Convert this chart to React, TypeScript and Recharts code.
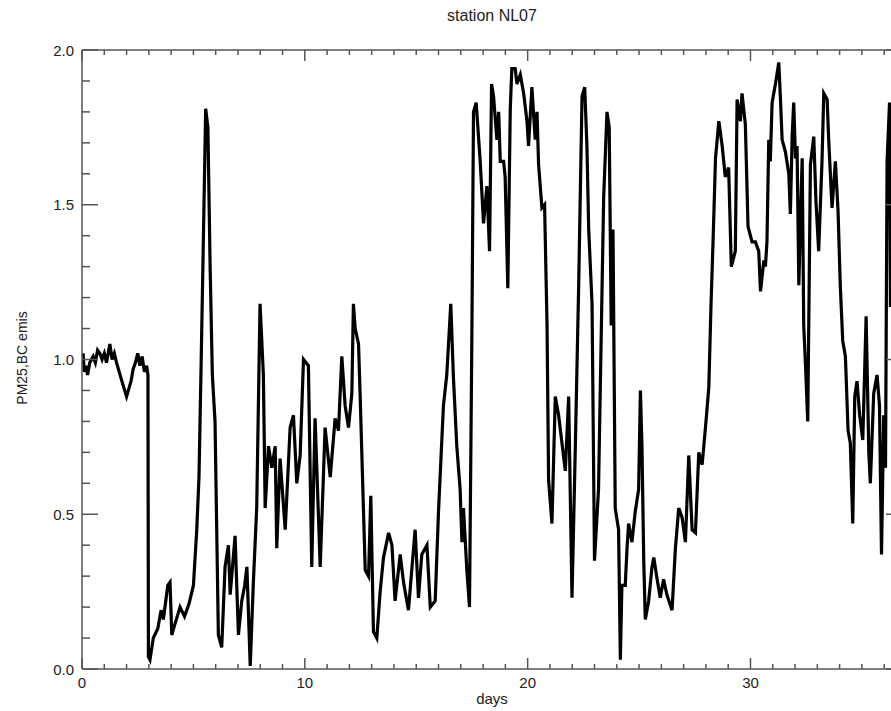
import { LineChart, Line, XAxis, YAxis } from "recharts";

// station NL07, PM25 BC emission factor
const days = [
  0.0, 0.05, 0.1, 0.18, 0.25, 0.35, 0.5, 0.6, 0.7, 0.8, 0.9, 1.0, 1.1, 1.25, 1.35, 1.45, 1.55,
  1.75, 2.0, 2.2, 2.3, 2.4, 2.5, 2.6, 2.7, 2.8, 2.9, 2.96,
  2.98, 3.05, 3.2, 3.4, 3.55, 3.65, 3.85, 3.95, 4.03, 4.15, 4.4, 4.6, 4.8, 5.0, 5.15, 5.25,
  5.35, 5.45, 5.55, 5.65, 5.75, 5.85, 5.97, 6.12, 6.27, 6.42, 6.57, 6.65, 6.87, 7.02, 7.17,
  7.3, 7.4, 7.55, 7.69, 7.84, 7.99, 8.14, 8.22, 8.37, 8.52, 8.67, 8.74, 8.89, 9.12, 9.34,
  9.49, 9.64, 9.79, 9.94, 10.16, 10.31, 10.46, 10.69, 10.91, 11.14, 11.36, 11.51, 11.66,
  11.81, 11.96, 12.11, 12.18, 12.26, 12.41, 12.48, 12.71, 12.86, 12.96, 13.08, 13.23, 13.38,
  13.53, 13.76, 13.91, 14.05, 14.28, 14.43, 14.65, 14.95, 15.1, 15.25, 15.48, 15.63, 15.85,
  16.0, 16.22, 16.37, 16.55, 16.67, 16.82, 16.97, 17.05, 17.12, 17.27, 17.39, 17.5, 17.57,
  17.69, 17.87, 18.02, 18.17, 18.29, 18.38, 18.47, 18.62, 18.7, 18.77, 18.92, 18.99, 19.11,
  19.22, 19.29, 19.44, 19.52, 19.67, 19.82, 19.97, 20.04, 20.19, 20.34, 20.42, 20.49, 20.64,
  20.76, 20.87, 20.94, 21.09, 21.24, 21.39, 21.69, 21.84, 21.99, 22.14, 22.29, 22.44, 22.56,
  22.66, 22.74, 22.89, 23.0, 23.18, 23.41, 23.56, 23.66, 23.75, 23.83, 23.93, 24.08, 24.16,
  24.23, 24.38, 24.46, 24.53, 24.68, 24.83, 24.98, 25.06, 25.13, 25.21, 25.28, 25.43, 25.58,
  25.66, 25.81, 25.95, 26.1, 26.25, 26.48, 26.63, 26.78, 26.93, 27.08, 27.23, 27.38, 27.53,
  27.68, 27.83, 27.98, 28.13, 28.23, 28.32, 28.43, 28.58, 28.73, 28.87, 29.02, 29.14, 29.32,
  29.4, 29.55, 29.62, 29.77, 29.89, 30.07, 30.22, 30.37, 30.45, 30.6, 30.67, 30.74, 30.82,
  30.89, 30.97, 31.12, 31.27, 31.34, 31.42, 31.57, 31.72, 31.79, 31.87, 31.94, 32.02, 32.09,
  32.17, 32.24, 32.32, 32.39, 32.47, 32.57, 32.69, 32.84, 32.94, 33.06, 33.21, 33.29, 33.44,
  33.51, 33.66, 33.81, 33.93, 34.03, 34.14, 34.26, 34.38, 34.48, 34.59, 34.68, 34.78, 34.9,
  35.04, 35.19, 35.31, 35.38, 35.53, 35.68, 35.79, 35.88, 35.98, 36.06, 36.13, 36.24, 36.28,
];

const bcEmis = [
  0.99, 1.02, 0.96, 0.98, 0.95, 0.99, 1.01, 0.99, 1.03, 1.02, 1.0, 1.02, 0.99, 1.05, 1.0, 1.02, 0.99,
  0.94, 0.88, 0.93, 0.97, 0.99, 1.02, 0.98, 1.01, 0.96, 0.98, 0.95,
  0.04, 0.03, 0.1, 0.13, 0.19, 0.16, 0.27, 0.28, 0.11, 0.14, 0.2, 0.17, 0.21, 0.27, 0.45, 0.62,
  1.0, 1.4, 1.81, 1.75, 1.3, 0.95, 0.8, 0.11, 0.07, 0.33, 0.4, 0.24, 0.43, 0.11, 0.22,
  0.27, 0.33, 0.01, 0.28, 0.52, 1.18, 0.95, 0.52, 0.72, 0.65, 0.72, 0.39, 0.68, 0.45, 0.78,
  0.82, 0.6, 0.69, 1.0, 0.98, 0.33, 0.81, 0.33, 0.78, 0.62, 0.81, 0.77, 1.01,
  0.85, 0.78, 0.89, 1.18, 1.1, 1.05, 0.89, 0.32, 0.3, 0.56, 0.12, 0.1, 0.25,
  0.36, 0.44, 0.4, 0.22, 0.37, 0.28, 0.19, 0.45, 0.23, 0.37, 0.4, 0.2, 0.22,
  0.51, 0.85, 0.95, 1.18, 0.94, 0.72, 0.58, 0.41, 0.52, 0.32, 0.2, 1.11, 1.8,
  1.83, 1.64, 1.44, 1.56, 1.35, 1.89, 1.85, 1.71, 1.8, 1.64, 1.64, 1.59, 1.23,
  1.81, 1.94, 1.94, 1.89, 1.92, 1.86, 1.77, 1.69, 1.88, 1.71, 1.8, 1.63, 1.49,
  1.5, 1.11, 0.61, 0.47, 0.88, 0.82, 0.64, 0.88, 0.23, 0.72, 1.24, 1.85, 1.88,
  1.69, 1.42, 1.18, 0.35, 0.58, 1.52, 1.8, 1.75, 1.11, 1.42, 0.52, 0.45, 0.03,
  0.27, 0.27, 0.39, 0.47, 0.41, 0.51, 0.58, 0.9, 0.72, 0.35, 0.16, 0.22, 0.33,
  0.36, 0.29, 0.23, 0.29, 0.24, 0.19, 0.39, 0.52, 0.49, 0.41, 0.69, 0.45, 0.44,
  0.7, 0.66, 0.78, 0.91, 1.18, 1.38, 1.65, 1.77, 1.69, 1.59, 1.62, 1.3, 1.35,
  1.84, 1.77, 1.86, 1.76, 1.43, 1.38, 1.38, 1.35, 1.22, 1.32, 1.3, 1.38, 1.71,
  1.64, 1.83, 1.89, 1.96, 1.85, 1.71, 1.67, 1.6, 1.47, 1.72, 1.83, 1.65, 1.69,
  1.24, 1.44, 1.65, 1.11, 0.98, 0.8, 1.63, 1.72, 1.51, 1.35, 1.64, 1.86, 1.84,
  1.71, 1.49, 1.64, 1.48, 1.24, 1.06, 1.01, 0.77, 0.73, 0.47, 0.88, 0.93, 0.82,
  0.74, 1.14, 0.7, 0.6, 0.89, 0.95, 0.85, 0.37, 0.82, 0.65, 1.64, 1.83, 1.17,
];

const xMajor = [0, 10, 20, 30];
const yMajor = [0, 0.5, 1, 1.5, 2];
const yLabels = ["0.0", "0.5", "1.0", "1.5", "2.0"];

// minor ticks: one per day, one per 0.1
const xTicks: number[] = [];
for (let i = 0; i <= 36; i++) xTicks.push(i);
const yTicks: number[] = [];
for (let i = 0; i <= 20; i++) yTicks.push(i / 10);

const data = days.map((d, i) => ({ day: d, v: bcEmis[i] }));

const AXIS = "#555";
const FONT = "'Liberation Sans', Arial, Helvetica, sans-serif";

const isMajorX = (v: number) => xMajor.includes(v);
const isMajorY = (v: number) => yMajor.some((m) => Math.abs(m - v) < 1e-6);

const BottomTick = (props: any) => {
  const { x, y, payload } = props;
  const major = isMajorX(payload.value);
  return (
    <g>
      <line x1={x} y1={y} x2={x} y2={y - (major ? 11 : 5)} stroke={AXIS} strokeWidth={1.5} />
      {major && (
        <text x={x} y={y + 19} textAnchor="middle" fontSize={15} fill="#222" fontFamily={FONT}>
          {payload.value}
        </text>
      )}
    </g>
  );
};

const TopTick = (props: any) => {
  const { x, y, payload } = props;
  const major = isMajorX(payload.value);
  return <line x1={x} y1={y} x2={x} y2={y + (major ? 11 : 5)} stroke={AXIS} strokeWidth={1.5} />;
};

const LeftTick = (props: any) => {
  const { x, y, payload } = props;
  const major = isMajorY(payload.value);
  const idx = yMajor.findIndex((m) => Math.abs(m - payload.value) < 1e-6);
  return (
    <g>
      <line x1={x} y1={y} x2={x + (major ? 16 : 8)} y2={y} stroke={AXIS} strokeWidth={1.5} />
      {major && (
        <text x={x - 8} y={y + 5.5} textAnchor="end" fontSize={15} fill="#222" fontFamily={FONT}>
          {yLabels[idx]}
        </text>
      )}
    </g>
  );
};

const RightTick = (props: any) => {
  const { x, y, payload } = props;
  const major = isMajorY(payload.value);
  return <line x1={x} y1={y} x2={x - (major ? 16 : 8)} y2={y} stroke={AXIS} strokeWidth={1.5} />;
};

export default function App() {
  return (
    <div
      style={{
        position: "fixed",
        left: 0,
        top: 0,
        width: 891,
        height: 711,
        overflow: "hidden",
        background: "#fff",
        fontFamily: FONT,
      }}
    >
      <div
        style={{
          position: "absolute",
          left: 392,
          width: 200,
          top: 7,
          textAlign: "center",
          fontSize: 16,
          color: "#222",
        }}
      >
        station NL07
      </div>
      <div
        style={{
          position: "absolute",
          left: 442,
          width: 100,
          top: 690,
          textAlign: "center",
          fontSize: 15,
          color: "#222",
        }}
      >
        days
      </div>
      <div
        style={{
          position: "absolute",
          left: 22 - 100,
          top: 358 - 10,
          width: 200,
          height: 20,
          lineHeight: "20px",
          textAlign: "center",
          fontSize: 14,
          color: "#222",
          transform: "rotate(-90deg)",
        }}
      >
        PM25,BC emis
      </div>
      <div style={{ position: "absolute", left: 0, top: 0 }}>
        <LineChart width={910} height={711} data={data} margin={{ top: 49, right: 7, bottom: 12, left: 22 }}>
          <XAxis
            dataKey="day"
            type="number"
            domain={[0, 36.8]}
            allowDataOverflow
            ticks={xTicks}
            interval={0}
            tick={<BottomTick />}
            tickLine={false}
            tickSize={0}
            tickMargin={0}
            height={30}
            stroke={AXIS}
            strokeWidth={1.5}
          />
          <XAxis
            xAxisId="top"
            dataKey="day"
            orientation="top"
            type="number"
            domain={[0, 36.8]}
            allowDataOverflow
            ticks={xTicks}
            interval={0}
            tick={<TopTick />}
            tickLine={false}
            tickSize={0}
            tickMargin={0}
            height={1}
            stroke={AXIS}
            strokeWidth={1.5}
          />
          <YAxis
            type="number"
            domain={[0, 2]}
            allowDataOverflow
            ticks={yTicks}
            interval={0}
            tick={<LeftTick />}
            tickLine={false}
            tickSize={0}
            tickMargin={0}
            width={60}
            stroke={AXIS}
            strokeWidth={1.5}
          />
          <YAxis
            yAxisId="right"
            dataKey="v"
            orientation="right"
            type="number"
            domain={[0, 2]}
            allowDataOverflow
            ticks={yTicks}
            interval={0}
            tick={<RightTick />}
            tickLine={false}
            tickSize={0}
            tickMargin={0}
            width={1}
            stroke={AXIS}
            strokeWidth={1.5}
          />
          <Line
            type="linear"
            dataKey="v"
            stroke="#000"
            strokeWidth={3.2}
            dot={false}
            isAnimationActive={false}
          />
        </LineChart>
      </div>
    </div>
  );
}
